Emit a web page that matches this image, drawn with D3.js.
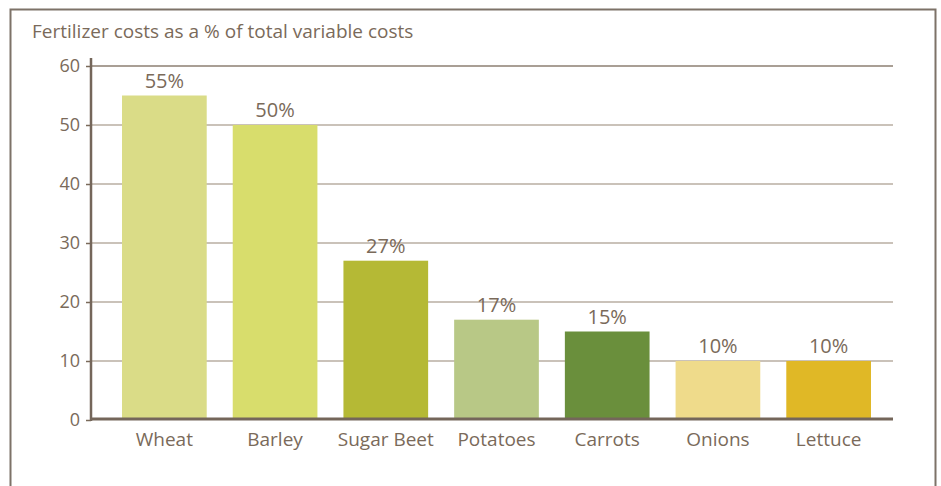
<!DOCTYPE html>
<html>
<head>
<meta charset="utf-8">
<script src="https://cdn.jsdelivr.net/npm/d3@7"></script>
<style>
  body { margin: 0; background: #fff; }
  svg text { font-family: "Open Sans", sans-serif; fill: #7a6a5a; }
</style>
</head>
<body>
<div id="chart"></div>
<script>
var crops = ["Wheat", "Barley", "Sugar Beet", "Potatoes", "Carrots", "Onions", "Lettuce"]
var shares = [55, 50, 27, 17, 15, 10, 10]
var barColors = ["#dadc87", "#d8dd6c", "#b5b935", "#b8c886", "#6a8f3c", "#efdb8b", "#e0b826"]
var yTicks = [0, 10, 20, 30, 40, 50, 60]

let width = 941, height = 486

var svg = d3.select('#chart').append('svg')
  .attr('width', width)
  .attr('height', height)

// outer frame (no bottom edge visible)
svg.append('path')
  .attr('d', 'M10.5,486 V9.5 H935.5 V486')
  .attr('fill', 'none')
  .attr('stroke', '#7d7268')
  .attr('stroke-width', 2)

svg.append('text')
  .attr('x', 32)
  .attr('y', 38)
  .attr('font-size', 19)
  .text('Fertilizer costs as a % of total variable costs')

var y = d3.scaleLinear()
  .domain([0, 60])
  .range([420, 66])

var x = d3.scaleBand()
  .domain(crops)
  .range([96, 897])
  .paddingInner(0.235)
  .paddingOuter(0.235)

// gridlines
svg.append('g')
  .selectAll('line')
  .data(yTicks.filter(d => d > 0))
  .enter()
  .append('line')
  .attr('x1', 91)
  .attr('x2', 893)
  .attr('y1', d => y(d))
  .attr('y2', d => y(d))
  .attr('stroke', d => d == 60 ? '#8c7f72' : '#b9aea2')
  .attr('stroke-width', 1.6)

// bars
svg.append('g')
  .selectAll('rect')
  .data(shares)
  .enter()
  .append('rect')
  .attr('x', (d, i) => x(crops[i]))
  .attr('width', x.bandwidth())
  .attr('y', d => y(d))
  .attr('height', d => y(0) - y(d))
  .attr('fill', (d, i) => barColors[i])

// value labels
svg.append('g')
  .selectAll('text')
  .data(shares)
  .enter()
  .append('text')
  .attr('x', (d, i) => x(crops[i]) + x.bandwidth() / 2)
  .attr('y', d => y(d) - 8)
  .attr('text-anchor', 'middle')
  .attr('font-size', 20)
  .text(d => d + '%')

// y axis
var yAxis = svg.append('g')
  .attr('transform', 'translate(91,0)')
  .call(d3.axisLeft(y).tickValues(yTicks).tickSize(5).tickPadding(6))
yAxis.select('.domain').remove()
yAxis.selectAll('line').attr('stroke', '#7a6a5a').attr('stroke-width', 1.5)
yAxis.selectAll('text')
  .attr('font-size', 18)
  .attr('font-family', '"Open Sans", sans-serif')
  .attr('fill', '#7a6a5a')

svg.append('line')
  .attr('x1', 91).attr('x2', 91)
  .attr('y1', 58).attr('y2', 421)
  .attr('stroke', '#74665a')
  .attr('stroke-width', 2.5)

// baseline
svg.append('line')
  .attr('x1', 90).attr('x2', 893)
  .attr('y1', y(0) - 1).attr('y2', y(0) - 1)
  .attr('stroke', '#74665a')
  .attr('stroke-width', 3)

// category labels
svg.append('g')
  .selectAll('text')
  .data(crops)
  .enter()
  .append('text')
  .attr('x', d => x(d) + x.bandwidth() / 2)
  .attr('y', 446)
  .attr('text-anchor', 'middle')
  .attr('font-size', 19)
  .text(d => d)
</script>
</body>
</html>
